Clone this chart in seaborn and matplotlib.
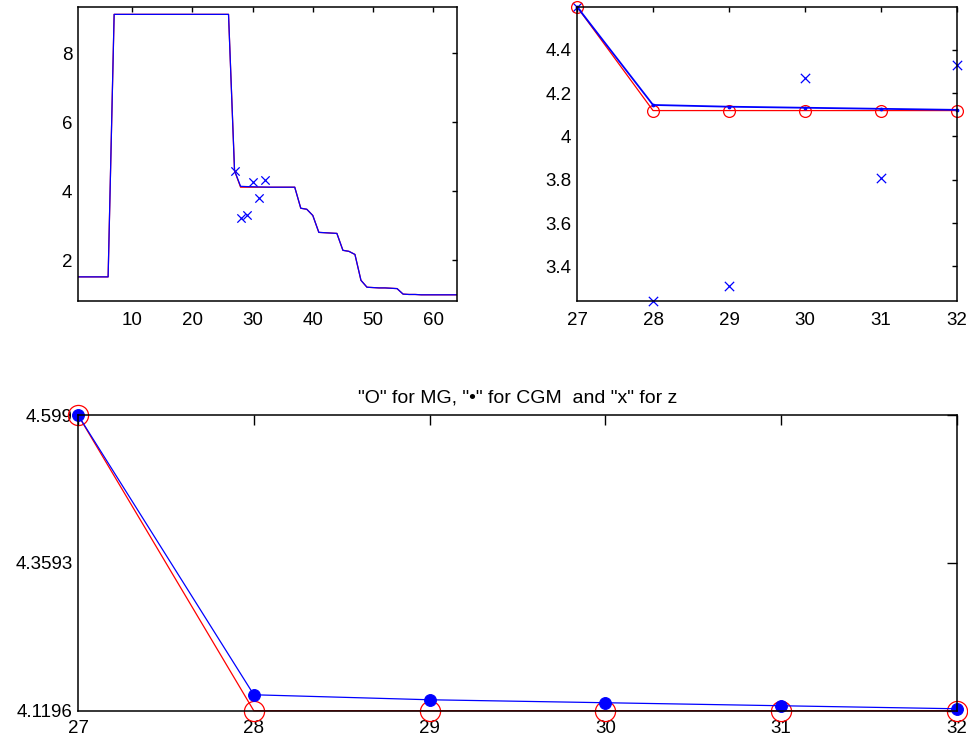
import numpy as np
import matplotlib
matplotlib.use("Agg")
import matplotlib.pyplot as plt
import seaborn as sns

# -------------------------------
# Data
# -------------------------------
idx = list(range(1, 65))

mg = [1.52] * 6 + [9.13] * 20 + [4.599] + [4.1196] * 10 + \
     [3.51, 3.48, 3.30, 2.81, 2.80, 2.79, 2.78, 2.29, 2.26, 2.17, 1.42,
      1.22, 1.21, 1.20, 1.20, 1.19, 1.18,
      1.02, 1.01, 1.01, 1.00, 1.00, 1.00, 1.00, 1.00, 1.00, 1.00]

cgm = [1.52] * 6 + [9.13] * 20 + [4.599] + \
      [4.1455, 4.1374, 4.1326, 4.1277, 4.1228] + [4.1196] * 5 + \
      [3.51, 3.48, 3.30, 2.81, 2.80, 2.79, 2.78, 2.29, 2.26, 2.17, 1.42,
       1.22, 1.21, 1.20, 1.20, 1.19, 1.18,
       1.02, 1.01, 1.01, 1.00, 1.00, 1.00, 1.00, 1.00, 1.00, 1.00]

zoom_x = [27, 28, 29, 30, 31, 32]
mg_zoom = [4.599, 4.1196, 4.1196, 4.1196, 4.1196, 4.1196]
cgm_zoom = [4.599, 4.1455, 4.1374, 4.1326, 4.1277, 4.1228]
z_vals = [4.599, 3.24, 3.31, 4.27, 3.81, 4.33]

bottom_yticks = [4.1196, 4.3593, 4.599]
bottom_ylabels = ["4.1196", "4.3593", "4.599"]

# -------------------------------
# Style
# -------------------------------
sns.set_theme(style="white")
plt.rcParams["font.family"] = ["Liberation Sans", "DejaVu Sans"]
plt.rcParams["axes.edgecolor"] = "black"
plt.rcParams["axes.linewidth"] = 1.1
plt.rcParams["text.color"] = "black"

fig = plt.figure(figsize=(9.68, 7.44), dpi=100)
ax1 = fig.add_axes([0.0806, 0.5954, 0.3918, 0.3955])
ax2 = fig.add_axes([0.5961, 0.5954, 0.3926, 0.3955])
ax3 = fig.add_axes([0.0806, 0.0447, 0.9080, 0.3974])


def matlab_ticks(ax, length, xpad):
    ax.tick_params(direction="in", length=length, width=1, colors="black",
                   labelsize=13.5, top=True, right=True)
    ax.tick_params(axis="x", pad=xpad)
    ax.tick_params(axis="y", pad=4)
    for s in ax.spines.values():
        s.set_color("black")


# -------------------------------
# Top-left: full history
# -------------------------------
sns.lineplot(x=idx, y=mg, color="red", linewidth=0.9, ax=ax1)
sns.lineplot(x=idx, y=cgm, color="blue", linewidth=0.9, ax=ax1)
sns.scatterplot(x=zoom_x, y=z_vals, marker="x", color="blue", s=36,
                linewidth=0.9, ax=ax1)
ax1.set_xlim(1, 64)
ax1.set_ylim(0.82, 9.35)
ax1.set_xticks([10, 20, 30, 40, 50, 60])
ax1.set_yticks([2, 4, 6, 8])
matlab_ticks(ax1, 3.5, 8)

# -------------------------------
# Top-right: zoom on 27..32
# -------------------------------
sns.lineplot(x=zoom_x, y=mg_zoom, color="red", linewidth=0.9, marker="o",
             markersize=8.5, markerfacecolor="none", markeredgecolor="red",
             markeredgewidth=0.9, ax=ax2)
sns.lineplot(x=zoom_x, y=cgm_zoom, color="blue", linewidth=1.3, marker=".",
             markersize=4, markerfacecolor="blue", markeredgecolor="blue",
             ax=ax2)
sns.scatterplot(x=zoom_x, y=z_vals, marker="x", color="blue", s=45,
                linewidth=0.9, ax=ax2)
ax2.set_xlim(27, 32)
ax2.set_ylim(3.24, 4.599)
ax2.set_xticks(zoom_x)
ax2.set_yticks([3.4, 3.6, 3.8, 4.0, 4.2, 4.4])
ax2.set_yticklabels(["3.4", "3.6", "3.8", "4", "4.2", "4.4"])
matlab_ticks(ax2, 3.6, 8)
for ln in ax2.get_lines():
    ln.set_clip_on(False)
for c in ax2.collections:
    c.set_clip_on(False)

# -------------------------------
# Bottom: MG vs CGM
# -------------------------------
sns.lineplot(x=zoom_x, y=mg_zoom, color="red", linewidth=0.9, marker="o",
             markersize=14.5, markerfacecolor="none", markeredgecolor="red",
             markeredgewidth=0.9, ax=ax3)
sns.lineplot(x=zoom_x, y=cgm_zoom, color="blue", linewidth=0.9, marker="o",
             markersize=8.5, markerfacecolor="blue", markeredgecolor="blue",
             ax=ax3)
ax3.set_xlim(27, 32)
ax3.set_ylim(4.1196, 4.599)
ax3.set_xticks(zoom_x)
ax3.set_yticks(bottom_yticks)
ax3.set_yticklabels(bottom_ylabels)
matlab_ticks(ax3, 7, 7)
for ln in ax3.get_lines():
    ln.set_clip_on(False)
ax3.set_title('"O" for MG, "\u2022" for CGM  and "x" for z', fontsize=14,
              color="black", pad=9)

plt.savefig("out.png", dpi=100)
